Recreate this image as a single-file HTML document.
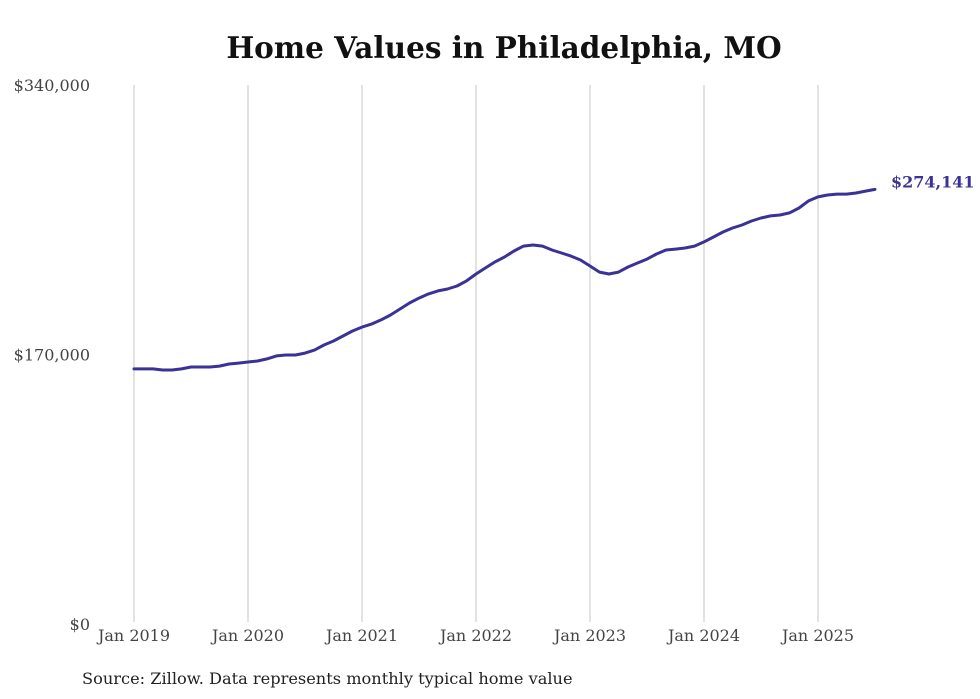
<!DOCTYPE html>
<html><head><meta charset="utf-8"><style>
body{margin:0;background:#fff;}
svg{display:block;font-family:"DejaVu Serif","Liberation Serif",serif;}
</style></head><body>
<svg id="chart" width="980" height="699" viewBox="0 0 980 699">
<text x="504" y="58" text-anchor="middle" font-size="29.5" font-weight="bold" fill="#111">Home Values in Philadelphia, MO</text>
<g id="grid"></g><g id="yax"></g><g id="xax"></g><g id="series"></g>
<text x="82" y="684" font-size="16.2" fill="#222">Source: Zillow. Data represents monthly typical home value</text>
</svg>
<script>
const yTicks=[0,170000,340000];
const yTickLabels=["$0","$170,000","$340,000"];
const xTickYears=[2019,2020,2021,2022,2023,2024,2025];
const xTickLabels=["Jan 2019","Jan 2020","Jan 2021","Jan 2022","Jan 2023","Jan 2024","Jan 2025"];
const startYear=2019;
const values=[160.9,160.9,160.9,160.2,160.2,160.9,162.1,162.1,162.1,162.7,164.0,164.6,
165.3,165.9,167.2,169.1,169.7,169.7,170.9,172.8,176.0,178.5,181.7,184.8,
187.3,189.2,191.8,194.9,198.7,202.5,205.6,208.2,210.1,211.3,213.2,216.4,
220.8,224.6,228.4,231.5,235.3,238.4,239.1,238.4,235.9,234.0,232.1,229.6,
225.8,222.0,220.8,222.0,225.2,227.7,230.2,233.4,235.9,236.5,237.2,238.4,
241.0,244.1,247.3,249.8,251.7,254.2,256.1,257.4,258.0,259.3,262.4,266.9,
269.4,270.6,271.2,271.2,271.9,273.1,274.141];
const lastLabel="$274,141";
const NS="http://www.w3.org/2000/svg";
const y=v=>624-v/340000*539;
const x=m=>134+m*114/12;
function mk(t,a,p){const e=document.createElementNS(NS,t);for(const k in a)e.setAttribute(k,a[k]);document.getElementById(p).appendChild(e);return e;}
xTickYears.forEach((yr,i)=>{
 const xx=x((yr-startYear)*12);
 const l=mk('line',{x1:xx,x2:xx,y1:85,y2:622,stroke:'#c4c4c4','stroke-width':1},'grid');
 
 
 const t=mk('text',{x:xx,y:641,'text-anchor':'middle','font-size':16,fill:'#444'},'xax');
 t.textContent=xTickLabels[i];
 
 
});
yTicks.forEach((v,i)=>{
 const t=mk('text',{x:90,y:y(v)+6,'text-anchor':'end','font-size':16,fill:'#444'},'yax');
 t.textContent=yTickLabels[i];
 
 
});
const d=values.map((v,i)=>(i?'L':'M')+x(i).toFixed(1)+','+y(v*1000).toFixed(1)).join('');
const p=mk('path',{d:d,fill:'none',stroke:'#3a3296','stroke-width':3,'stroke-linejoin':'round','stroke-linecap':'round'},'series');


const li=values.length-1;
const lt=mk('text',{x:x(li)+16,y:y(values[li]*1000)-2,'font-size':16,'font-weight':'bold',fill:'#3a3296'},'series');
lt.textContent=lastLabel;


</script>
</body></html>
